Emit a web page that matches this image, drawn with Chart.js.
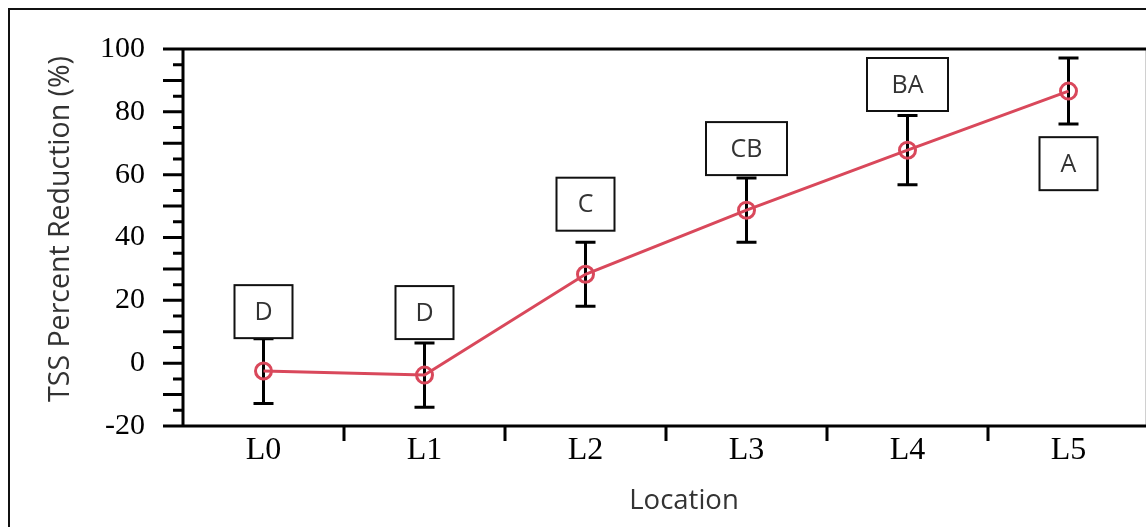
<!DOCTYPE html>
<html>
<head>
<meta charset="utf-8">
<script src="https://cdn.jsdelivr.net/npm/chart.js"></script>
<style>
  html, body { margin: 0; padding: 0; background: #fff; overflow: hidden; }
  .wrap { position: relative; width: 1160px; height: 527px; }
</style>
</head>
<body>
<div class="wrap"><canvas id="chart"></canvas></div>
<script>
// data
const locations = ['L0', 'L1', 'L2', 'L3', 'L4', 'L5'];
const meanReduction = [-2.5, -3.8, 28.3, 48.7, 67.8, 86.6];
const errorSize = [10.3, 10.2, 10.2, 10.2, 11.0, 10.5];
const groupLetters = ['D', 'D', 'C', 'CB', 'BA', 'A'];
const letterY = [16.4, 16.1, 50.6, 68.3, 88.7, 63.5];

const lineColor = '#d9485b';
const serif = '"Liberation Serif", "Times New Roman", serif';
const sans = '"Open Sans", "Noto Sans", sans-serif';

const extras = {
  id: 'extras',
  beforeDatasetsDraw(chart) {
    const ctx = chart.ctx;
    const x = chart.scales.x, y = chart.scales.y;
    ctx.save();
    ctx.strokeStyle = '#000';
    ctx.lineWidth = 3;
    meanReduction.forEach((m, i) => {
      const px = x.getPixelForValue(i);
      const top = y.getPixelForValue(m + errorSize[i]);
      const bot = y.getPixelForValue(m - errorSize[i]);
      ctx.beginPath();
      ctx.moveTo(px, top); ctx.lineTo(px, bot);
      ctx.moveTo(px - 10, top); ctx.lineTo(px + 10, top);
      ctx.moveTo(px - 10, bot); ctx.lineTo(px + 10, bot);
      ctx.stroke();
    });
    ctx.restore();
  },
  afterDraw(chart) {
    const ctx = chart.ctx;
    const x = chart.scales.x, y = chart.scales.y;
    const a = chart.chartArea;
    ctx.save();

    // frame: light right edge, heavy left/top/bottom
    ctx.strokeStyle = '#d0d0d0';
    ctx.lineWidth = 1;
    ctx.beginPath(); ctx.moveTo(1145.5, a.top); ctx.lineTo(1145.5, a.bottom); ctx.stroke();

    ctx.strokeStyle = '#000';
    ctx.lineWidth = 3;
    ctx.beginPath();
    ctx.moveTo(a.left, a.top); ctx.lineTo(a.left, a.bottom);
    ctx.moveTo(a.left, a.top); ctx.lineTo(a.right, a.top);
    ctx.moveTo(a.left, a.bottom); ctx.lineTo(a.right, a.bottom);
    ctx.stroke();

    // y ticks: long every 10, short every 5
    ctx.beginPath();
    for (let v = y.min; v <= y.max; v += 5) {
      const py = y.getPixelForValue(v);
      const len = v % 10 === 0 ? 20 : 10;
      ctx.moveTo(a.left - len, py); ctx.lineTo(a.left, py);
    }
    // x ticks between categories
    for (let i = 1; i <= locations.length; i++) {
      const px = x.getPixelForValue(i - 0.5);
      ctx.moveTo(px, a.bottom); ctx.lineTo(px, a.bottom + 15);
    }
    ctx.stroke();

    // letter boxes
    ctx.font = '25px ' + sans;
    ctx.textAlign = 'center';
    ctx.textBaseline = 'middle';
    groupLetters.forEach((g, i) => {
      const px = x.getPixelForValue(i);
      const py = y.getPixelForValue(letterY[i]);
      const w = 58 + 23 * (g.length - 1), h = 53;
      ctx.fillStyle = '#fff';
      ctx.fillRect(px - w / 2, py - h / 2, w, h);
      ctx.strokeStyle = '#111';
      ctx.lineWidth = 2;
      ctx.strokeRect(px - w / 2, py - h / 2, w, h);
      ctx.fillStyle = '#333';
      ctx.fillText(g, px, py + 1);
    });

    // axis titles
    ctx.fillStyle = '#333';
    ctx.textBaseline = 'alphabetic';
    ctx.font = '27.5px ' + sans;
    ctx.fillText('Location', 684, 509);
    ctx.save();
    ctx.translate(69, 229);
    ctx.rotate(-Math.PI / 2);
    ctx.font = '28.5px ' + sans;
    ctx.fillText('TSS Percent Reduction (%)', 0, 0);
    ctx.restore();

    // outer border
    ctx.strokeStyle = '#111';
    ctx.lineWidth = 2;
    ctx.strokeRect(9, 9, 2000, 2000);
    ctx.restore();
  }
};

new Chart(document.getElementById('chart'), {
  type: 'line',
  data: {
    labels: locations,
    datasets: [{
      data: meanReduction,
      borderColor: lineColor,
      borderWidth: 3,
      pointRadius: 8,
      pointBorderWidth: 3,
      pointBorderColor: lineColor,
      pointBackgroundColor: 'rgba(0,0,0,0)',
      tension: 0
    }]
  },
  options: {
    responsive: true,
    maintainAspectRatio: false,
    animation: false,
    events: [],
    layout: { padding: { top: 49, right: 3, left: 0, bottom: 0 } },
    plugins: { legend: { display: false }, tooltip: { enabled: false } },
    scales: {
      x: {
        type: 'category',
        offset: true,
        grid: { display: false, drawTicks: false },
        border: { display: false },
        ticks: { color: '#000', font: { family: serif, size: 32 }, padding: 5, maxRotation: 0 },
        afterFit(s) { s.height = 101; }
      },
      y: {
        min: -20,
        max: 100,
        // invisible tick marks just make room; the real ones are drawn by the plugin
        grid: { display: true, drawOnChartArea: false, drawTicks: true, tickLength: 30, tickColor: 'rgba(0,0,0,0)' },
        border: { display: false },
        ticks: {
          stepSize: 5,
          autoSkip: false,
          color: '#000',
          padding: 8,
          font: { family: serif, size: 30 },
          callback: v => (v % 20 === 0 ? v : '')
        },
        afterFit(s) { s.width = 183; }
      }
    }
  },
  plugins: [extras]
});
</script>
</body>
</html>
